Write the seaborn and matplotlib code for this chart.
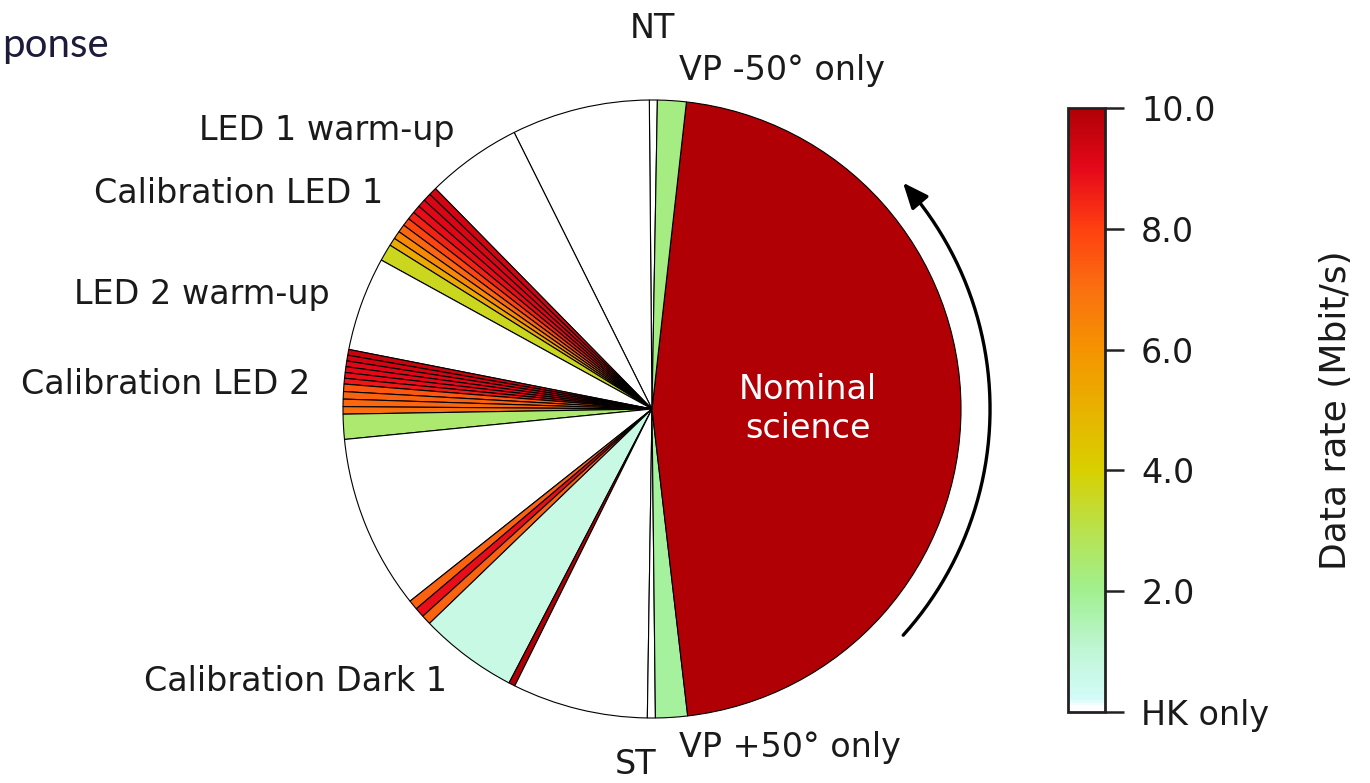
import numpy as np
import matplotlib
matplotlib.use("Agg")
import matplotlib.pyplot as plt
from matplotlib.colors import Normalize, LinearSegmentedColormap
from matplotlib.cm import ScalarMappable
import seaborn as sns

# Orbit timeline segments, counter-clockwise from the north terminator (NT).
# Span of each segment in degrees of orbit phase and its downlink data rate (Mbit/s).
segment_span_deg = [
    1.5,                                                    # NT
    26.0,                                                   # HK only
    18.0,                                                   # LED 1 warm-up
    1.5, 1.5, 1.5, 1.5, 1.5, 1.5, 1.5, 1.5, 1.5, 3.2,       # Calibration LED 1
    17.7,                                                   # LED 2 warm-up
    1.08, 1.08, 1.08, 1.08, 1.08, 1.08, 1.4, 1.4, 1.4, 1.4, # Calibration LED 2
    4.7,                                                    # VP only
    32.8,                                                   # HK only
    1.83, 1.83, 1.83,                                       # calibration bursts
    18.5,                                                   # Calibration Dark 1
    1.2,                                                    # burst
    25.5,                                                   # HK only
    1.5,                                                    # ST
    6.0,                                                    # VP +50 only
    167.0,                                                  # Nominal science
    5.4,                                                    # VP -50 only
]
segment_rate = [
    0.0,
    0.0,
    0.0,
    9.3, 9.2, 9.1, 8.9, 8.5, 7.9, 7.2, 6.3, 5.3, 3.6,
    0.0,
    9.5, 9.3, 9.1, 9.0, 8.9, 8.7, 7.5, 7.3, 7.2, 7.0,
    2.5,
    0.0,
    7.3, 8.9, 7.3,
    0.7,
    10.0,
    0.0,
    0.0,
    1.8,
    10.0,
    2.2,
]

rate_min, rate_max = 0.0, 10.0
cbar_ticks = [0, 2, 4, 6, 8, 10]
cbar_ticklabels = ["HK only", "2.0", "4.0", "6.0", "8.0", "10.0"]
cbar_label = "Data rate (Mbit/s)"

phase_labels = ["NT", "VP -50° only", "LED 1 warm-up", "Calibration LED 1",
                "LED 2 warm-up", "Calibration LED 2", "Calibration Dark 1",
                "ST", "VP +50° only"]
science_label = "Nominal\nscience"

sns.set_theme(style="white")
plt.rcParams["font.family"] = ["DejaVu Sans"]

# white (housekeeping only) -> cyan -> green -> yellow -> orange -> red -> dark red
cmap_anchor_rate = [0.0, 0.08, 0.2, 1.0, 2.0, 3.0, 4.0, 5.0, 6.0, 7.0, 8.0, 9.0, 10.0]
cmap_anchor_color = ["#ffffff", "#ffffff", "#d2fcf8", "#c0f6d6", "#a0f090",
                     "#b8e24e", "#d8d000", "#e8b200", "#f59400", "#fa7010",
                     "#ff4010", "#e6081a", "#b00006"]
rate_cmap = LinearSegmentedColormap.from_list(
    "data_rate",
    list(zip([r / rate_max for r in cmap_anchor_rate], cmap_anchor_color)))
norm = Normalize(rate_min, rate_max)

W, H = 1370, 783
cx, cy, rpx = 652, 409, 309
fig = plt.figure(figsize=(W / 100, H / 100), dpi=100)
ax = fig.add_axes([0, 0, 1, 1])

colors = [rate_cmap(norm(r)) for r in segment_rate]
ax.pie(segment_span_deg, colors=colors, startangle=89.0, counterclock=True,
       radius=1.0, wedgeprops=dict(edgecolor="black", linewidth=0.8))

ax.set_aspect("auto")
ax.set_xlim(-cx / rpx, (W - cx) / rpx)
ax.set_ylim(-(H - cy) / rpx, cy / rpx)
ax.axis("off")

fs = 24
txt = dict(fontsize=fs, color="#1a1a1a", va="center")
ax.text(0.0, 1.233, phase_labels[0], ha="center", **txt)
ax.text(0.088, 1.097, phase_labels[1], ha="left", **txt)
ax.text(-0.638, 0.900, phase_labels[2], ha="right", **txt)
ax.text(-0.871, 0.696, phase_labels[3], ha="right", **txt)
ax.text(-1.042, 0.369, phase_labels[4], ha="right", **txt)
ax.text(-1.107, 0.078, phase_labels[5], ha="right", **txt)
ax.text(-0.663, -0.883, phase_labels[6], ha="right", **txt)
ax.text(-0.052, -1.150, phase_labels[7], ha="center", **txt)
ax.text(0.088, -1.097, phase_labels[8], ha="left", **txt)
ax.text(0.505, 0.0, science_label, ha="center", va="center", fontsize=fs,
        color="white", linespacing=1.25)

# direction-of-travel arrow around the science arc
arc_r = 1.094
theta = np.radians(np.linspace(-42, 40, 200))
ax.plot(arc_r * np.cos(theta), arc_r * np.sin(theta), color="black", lw=2.4)
t_end, t_pre = np.radians(42.5), np.radians(38.5)
ax.annotate("", xy=(arc_r * np.cos(t_end), arc_r * np.sin(t_end)),
            xytext=(arc_r * np.cos(t_pre), arc_r * np.sin(t_pre)),
            arrowprops=dict(arrowstyle="-|>,head_length=1.3,head_width=0.55",
                            color="black", lw=2.4))

# colour bar
cax = fig.add_axes([1068 / W, (H - 712) / H, 37 / W, 604 / H])
sm = ScalarMappable(norm=norm, cmap=rate_cmap)
cb = fig.colorbar(sm, cax=cax, ticks=cbar_ticks)
cb.ax.set_yticklabels(cbar_ticklabels)
cb.outline.set_linewidth(2.0)
cb.outline.set_edgecolor("#222222")
cb.ax.tick_params(axis="y", length=14, width=1.8, color="#222222",
                  labelsize=fs, labelcolor="#1a1a1a", pad=12, right=True)
cb.set_label(cbar_label, fontsize=fs + 2, color="#1a1a1a", labelpad=36)

# section heading fragment in the top-left corner
fig.text(2 / W, 1 - 46 / H, "ponse", ha="left", va="center",
         fontsize=29, color="#1c1b3a", family=["Lato", "DejaVu Sans"])

fig.savefig("out.png", dpi=100, facecolor="white")
